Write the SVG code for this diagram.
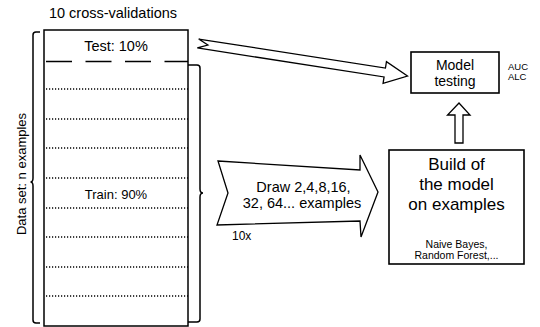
<svg xmlns="http://www.w3.org/2000/svg" width="540" height="327" viewBox="0 0 540 327">
<style>
text{font-family:"Liberation Sans",Arial,sans-serif;fill:#000}
.ln{fill:none;stroke:#000;stroke-width:1.5}
.ar{fill:#fff;stroke:#000;stroke-width:1.3;stroke-linejoin:miter}
.dot{fill:none;stroke:#000;stroke-width:1.4;stroke-dasharray:1.2 1.8}
.box{fill:#fff;stroke:#000;stroke-width:1.6}
</style>
<rect width="540" height="327" fill="#fff"/>
<g id="dataset">
<text x="113" y="18" font-size="14.5" text-anchor="middle">10 cross-validations</text>
<rect x="44" y="30" width="144" height="296" class="ln"/>
<line x1="46" y1="61.5" x2="188" y2="61.5" stroke="#000" stroke-width="1.6" stroke-dasharray="26 13.5"/>
<text x="116" y="51" font-size="14.5" text-anchor="middle">Test: 10%</text>
<g>
<line x1="46" y1="89" x2="188" y2="89" class="dot"/>
<line x1="46" y1="119" x2="188" y2="119" class="dot"/>
<line x1="46" y1="148" x2="188" y2="148" class="dot"/>
<line x1="46" y1="178" x2="188" y2="178" class="dot"/>
<line x1="46" y1="208" x2="188" y2="208" class="dot"/>
<line x1="46" y1="237" x2="188" y2="237" class="dot"/>
<line x1="46" y1="267" x2="188" y2="267" class="dot"/>
<line x1="46" y1="296" x2="188" y2="296" class="dot"/>
</g>
<text x="116" y="199" font-size="13" text-anchor="middle">Train: 90%</text>
<path d="M40,32 L36,32 Q33,32 33,35 L33,178 Q33,182 30.5,182 Q33,182 33,186 L33,320 Q33,323 36,323 L40,323" class="ln" stroke-width="1.3"/>
<text transform="translate(25.5,174) rotate(-90)" font-size="13" text-anchor="middle">Data set: n examples</text>
<path d="M188,65 L197,65 Q200,65 200,68 L200,189 Q200,193 203,193 Q200,193 200,197 L200,319 Q200,322 197,322 L188,322" class="ln" stroke-width="1.3"/>
</g>
<g id="model-testing">
<rect x="411" y="52" width="88" height="41" class="box"/>
<text x="455" y="70" font-size="14" text-anchor="middle">Model</text>
<text x="455" y="86" font-size="14" text-anchor="middle">testing</text>
<text x="508" y="70" font-size="9.5">AUC</text>
<text x="508" y="80" font-size="9.5">ALC</text>
</g>
<g id="build-model">
<rect x="389" y="150" width="135" height="114" class="box"/>
<text x="456.5" y="170" font-size="17" text-anchor="middle">Build of</text>
<text x="456.5" y="190" font-size="17" text-anchor="middle">the model</text>
<text x="456.5" y="210" font-size="17" text-anchor="middle">on examples</text>
<text x="456.5" y="248" font-size="10.5" text-anchor="middle">Naive Bayes,</text>
<text x="456.5" y="259" font-size="10.5" text-anchor="middle">Random Forest,...</text>
</g>
<g id="connectors">
<polygon transform="translate(198,43.5) rotate(8.82)" points="0,-4.5 189,-4.5 189,-11 212,0 189,11 189,4.5 0,4.5 10,0" class="ar"/>
<polygon points="455,143 463,143 463,115 470,115 459,103 447.5,115 455,115" class="ar"/>
<g id="draw-arrow">
<polygon points="218,161 360,170 360,155 378,192 361,237 360,221 217,225 228,193" class="ar"/>
<text x="303.5" y="192" font-size="14.5" text-anchor="middle">Draw 2,4,8,16,</text>
<text x="302" y="208" font-size="14.5" text-anchor="middle">32, 64... examples</text>
<text x="232" y="240" font-size="12">10x</text>
</g>
</g>
</svg>
